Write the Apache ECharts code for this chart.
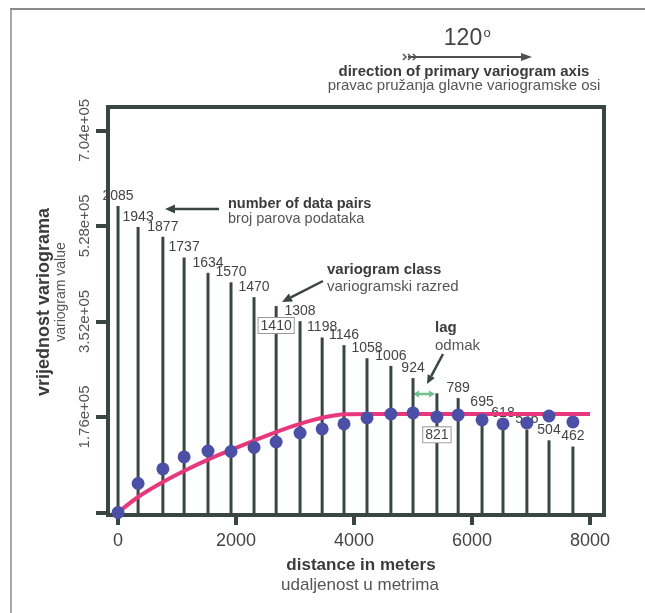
<!DOCTYPE html>
<html><head><meta charset="utf-8">
<script src="https://cdn.jsdelivr.net/npm/echarts@6/dist/echarts.min.js"></script>
<style>html,body{margin:0;padding:0;background:#fff}#c{width:645px;height:613px}</style>
</head><body><div id="c"></div>
<script>
// ---- data ----
const lagDistance = [0, 340, 760, 1120, 1525, 1915, 2305, 2680, 3085, 3460, 3830, 4220, 4625, 5000, 5405, 5765, 6170, 6525, 6930, 7305, 7710];
const pairCounts = [2085, 1943, 1877, 1737, 1634, 1570, 1470, 1410, 1308, 1198, 1146, 1058, 1006, 924, 821, 789, 695, 618, 576, 504, 462];
const variogramValue = [0, 53400, 80200, 102300, 113300, 112400, 119800, 129900, 146500, 153900, 163100, 174200, 181500, 183400, 176000, 179700, 170500, 163100, 164900, 177800, 166800];
const modelDistance = [0, 340, 760, 1135, 1525, 1930, 2320, 2710, 3120, 3460, 3850, 4300, 8000];
const modelValue = [0, 28600, 56200, 77500, 97500, 116000, 133000, 149500, 164500, 174500, 181000, 181500, 181500];
const xTickValues = [0, 2000, 4000, 6000, 8000];
const yTickValues = [176000, 352000, 528000, 704000];
const yTickLabels = ['1.76e+05', '3.52e+05', '5.28e+05', '7.04e+05'];
const boxedCounts = [1410, 821];

const FONT = '"Liberation Sans", Arial, sans-serif';
const frameColor = '#3a4641';
const boxedDistance = {1410: 12, 821: 34};

function arrow(x1, y1, x2, y2, color, w, L, W) {
  const a = Math.atan2(y2 - y1, x2 - x1);
  const bx = x2 - L * Math.cos(a), by = y2 - L * Math.sin(a);
  const px = -Math.sin(a) * W, py = Math.cos(a) * W;
  return [
    {type: 'line', silent: true, shape: {x1: x1, y1: y1, x2: bx, y2: by}, style: {stroke: color, lineWidth: w}},
    {type: 'polygon', silent: true, shape: {points: [[x2, y2], [bx + px, by + py], [bx - px, by - py]]}, style: {fill: color}}
  ];
}
function txt(s, x, y, size, bold, color, align, rot) {
  return {type: 'text', silent: true, x: x, y: y, rotation: rot || 0,
    style: {text: s, font: (bold ? 'bold ' : '') + size + 'px ' + FONT, fill: color,
      align: align || 'left', verticalAlign: 'middle'}};
}

const graphics = [
  {type: 'line', silent: true, shape: {x1: 10, y1: 9, x2: 645, y2: 9}, style: {stroke: '#8a8a8a', lineWidth: 2}},
  {type: 'line', silent: true, shape: {x1: 11, y1: 9, x2: 11, y2: 613}, style: {stroke: '#8a8a8a', lineWidth: 1.5}},
  txt('120', 463, 39, 23, false, '#444', 'center'),
  txt('o', 487, 33, 13, false, '#444', 'center'),
  ...arrow(408, 57, 532, 57, '#505050', 2, 11, 4),
  {type: 'polyline', silent: true, shape: {points: [[403, 54], [406, 57], [403, 60]]}, style: {stroke: '#555', lineWidth: 1.5, fill: null}},
  {type: 'polyline', silent: true, shape: {points: [[408, 54], [411, 57], [408, 60]]}, style: {stroke: '#555', lineWidth: 1.5, fill: null}},
  {type: 'polyline', silent: true, shape: {points: [[413, 54], [416, 57], [413, 60]]}, style: {stroke: '#555', lineWidth: 1.5, fill: null}},
  txt('direction of primary variogram axis', 464, 72, 15, true, '#3b3b3b', 'center'),
  txt('pravac pružanja glavne variogramske osi', 464, 86, 15, false, '#555', 'center'),
  txt('vrijednost variograma', 44, 302, 18, true, '#3b3b3b', 'center', Math.PI / 2),
  txt('variogram value', 61, 292, 14, false, '#555', 'center', Math.PI / 2),
  txt('distance in meters', 361, 565, 17, true, '#3b3b3b', 'center'),
  txt('udaljenost u metrima', 360, 585, 17, false, '#555', 'center'),
  txt('number of data pairs', 228, 204, 14.5, true, '#3b3b3b', 'left'),
  txt('broj parova podataka', 228, 219, 14.5, false, '#555', 'left'),
  ...arrow(219, 209, 165, 209, '#3a4641', 2.5, 10, 4.5),
  txt('variogram class', 327, 270, 15, true, '#3b3b3b', 'left'),
  txt('variogramski razred', 327, 287, 15, false, '#555', 'left'),
  ...arrow(323, 281, 282, 302, '#3a4641', 2.5, 10, 4.5),
  txt('lag', 435, 328, 15, true, '#3b3b3b', 'left'),
  txt('odmak', 435, 346, 15, false, '#555', 'left'),
  ...arrow(443, 354, 427, 384, '#3a4641', 2.5, 9, 4),
  ...arrow(424, 394, 413, 394, '#6fc08c', 2.5, 6, 3.5),
  ...arrow(424, 394, 435, 394, '#6fc08c', 2.5, 6, 3.5)
];

const barData = lagDistance.map(function (d, i) {
  const item = {value: [d, pairCounts[i]]};
  if (boxedCounts.indexOf(pairCounts[i]) >= 0) {
    item.label = {position: 'insideTop', distance: boxedDistance[pairCounts[i]],
      backgroundColor: '#fff', borderColor: '#9a9a9a', borderWidth: 1, padding: [1, 2, 0, 2]};
  }
  return item;
});

const chart = echarts.init(document.getElementById('c'), null, {renderer: 'canvas'});
chart.setOption({
  animation: false,
  backgroundColor: '#fff',
  grid: {left: 108, right: 41, top: 107, bottom: 98, show: true, borderColor: frameColor, borderWidth: 4, backgroundColor: 'transparent'},
  xAxis: {
    type: 'value', min: -170, max: 8237,
    axisLine: {show: false, onZero: false}, splitLine: {show: false},
    axisTick: {show: true, inside: false, length: 10, lineStyle: {color: frameColor, width: 4}, customValues: xTickValues},
    axisLabel: {customValues: xTickValues, fontSize: 18, color: '#444', margin: 17, fontFamily: FONT,
      formatter: function (v) { return String(v); }}
  },
  yAxis: [{
    type: 'value', min: -4600, max: 747000,
    axisLine: {show: false, onZero: false}, splitLine: {show: false},
    axisTick: {show: true, inside: false, length: 12, lineStyle: {color: frameColor, width: 4}, customValues: [0].concat(yTickValues)},
    axisLabel: {customValues: yTickValues, rotate: 90, fontSize: 15, color: '#555', margin: 16, fontFamily: FONT,
      formatter: function (v) { const k = yTickValues.indexOf(v); return k >= 0 ? yTickLabels[k] : ''; }}
  }, {
    type: 'value', min: 0, max: 2753, show: false, splitLine: {show: false}
  }],
  series: [{
    type: 'bar', xAxisIndex: 0, yAxisIndex: 1, barWidth: 3, z: 2, silent: true,
    itemStyle: {color: frameColor},
    label: {show: true, position: 'top', distance: 3, fontSize: 14, color: '#444', fontFamily: FONT,
      formatter: function (p) { return p.value[1]; }},
    data: barData
  }, {
    type: 'line', xAxisIndex: 0, yAxisIndex: 0, z: 3, silent: true,
    smooth: 0.3, symbol: 'none',
    lineStyle: {color: '#e8387d', width: 4},
    data: modelDistance.map(function (d, i) { return [d, modelValue[i]]; })
  }, {
    type: 'scatter', xAxisIndex: 0, yAxisIndex: 0, z: 4, silent: true,
    symbolSize: 13, itemStyle: {color: '#4b4fa6', opacity: 1},
    data: lagDistance.map(function (d, i) { return [d, variogramValue[i]]; })
  }],
  graphic: graphics
});
</script>
</body></html>
